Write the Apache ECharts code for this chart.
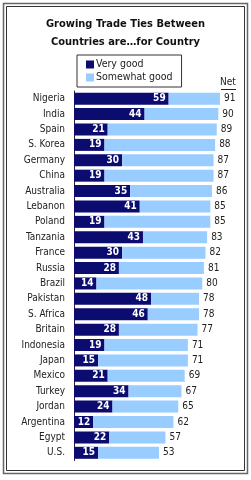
<!DOCTYPE html>
<html>
<head>
<meta charset="utf-8">
<script src="https://cdn.jsdelivr.net/npm/echarts@6/dist/echarts.min.js"></script>
<style>
  html, body { margin: 0; padding: 0; background: #fff; }
  #chart { width: 251px; height: 480px; }
</style>
</head>
<body>
<div id="chart"></div>
<script>
var countries = ["Nigeria", "India", "Spain", "S. Korea", "Germany", "China", "Australia", "Lebanon",
  "Poland", "Tanzania", "France", "Russia", "Brazil", "Pakistan", "S. Africa", "Britain",
  "Indonesia", "Japan", "Mexico", "Turkey", "Jordan", "Argentina", "Egypt", "U.S."];
var veryGood = [59, 44, 21, 19, 30, 19, 35, 41, 19, 43, 30, 28, 14, 48, 46, 28, 19, 15, 21, 34, 24, 12, 22, 15];
var netGood = [91, 90, 89, 88, 87, 87, 86, 85, 85, 83, 82, 81, 80, 78, 78, 77, 71, 71, 69, 67, 65, 62, 57, 53];

var somewhat = [];
for (var i = 0; i < netGood.length; i++) {
  somewhat.push(netGood[i] - veryGood[i]);
}

var font = '"DejaVu Sans Condensed", "Liberation Sans", sans-serif';
var dark = '#0b0b70';
var light = '#99ccff';

var myChart = echarts.init(document.getElementById('chart'), null, { renderer: 'canvas' });

var option = {
  backgroundColor: '#fff',
  animation: false,
  textStyle: { fontFamily: font },
  title: {
    text: 'Growing Trade Ties Between\nCountries are\u2026for Country',
    left: 'center',
    top: 10,
    textStyle: { fontFamily: font, fontSize: 11, fontWeight: 'bold', lineHeight: 18, color: '#111' }
  },
  legend: {
    orient: 'vertical',
    left: 77,
    top: 55,
    borderColor: '#333',
    borderWidth: 1,
    padding: [4, 9, 4, 9],
    itemWidth: 8,
    itemHeight: 8,
    itemGap: 2,
    icon: 'rect',
    textStyle: { fontFamily: font, fontSize: 10.5, color: '#222', padding: [0, 0, 0, -3] },
    data: ['Very good', 'Somewhat good']
  },
  grid: { left: 74, top: 91, width: 160.4, height: 369.5 },
  xAxis: {
    type: 'value',
    min: 0,
    max: 100,
    show: false
  },
  yAxis: {
    type: 'category',
    inverse: true,
    data: countries,
    axisLine: { show: true, lineStyle: { color: '#222', width: 1 } },
    axisTick: { show: false },
    axisLabel: { fontFamily: font, fontSize: 10, color: '#222', margin: 9 }
  },
  series: [
    {
      name: 'Very good',
      type: 'bar',
      stack: 'all',
      barWidth: 12,
      itemStyle: { color: dark },
      label: {
        show: true,
        position: 'insideRight',
        distance: 3,
        color: '#fff',
        fontFamily: font,
        fontSize: 10,
        fontWeight: 'bold'
      },
      data: veryGood
    },
    {
      name: 'Somewhat good',
      type: 'bar',
      stack: 'all',
      barWidth: 12,
      itemStyle: { color: light },
      label: {
        show: true,
        position: 'right',
        distance: 4,
        color: '#222',
        fontFamily: font,
        fontSize: 10,
        formatter: function (p) { return netGood[p.dataIndex]; }
      },
      data: somewhat
    }
  ],
  graphic: [
    { type: 'rect', shape: { x: 3.5, y: 3.5, width: 244, height: 470 }, style: { fill: null, stroke: '#666', lineWidth: 1.5 } },
    { type: 'rect', shape: { x: 6.5, y: 6.5, width: 238, height: 464 }, style: { fill: null, stroke: '#333', lineWidth: 1 } },
    { type: 'text', x: 228, y: 77, style: { text: 'Net', textAlign: 'center', fill: '#222', font: '10px ' + font } },
    { type: 'line', shape: { x1: 221, y1: 89.5, x2: 236, y2: 89.5 }, style: { stroke: '#222', lineWidth: 1 } }
  ]
};

myChart.setOption(option);
window.addEventListener('resize', myChart.resize);
</script>
</body>
</html>
